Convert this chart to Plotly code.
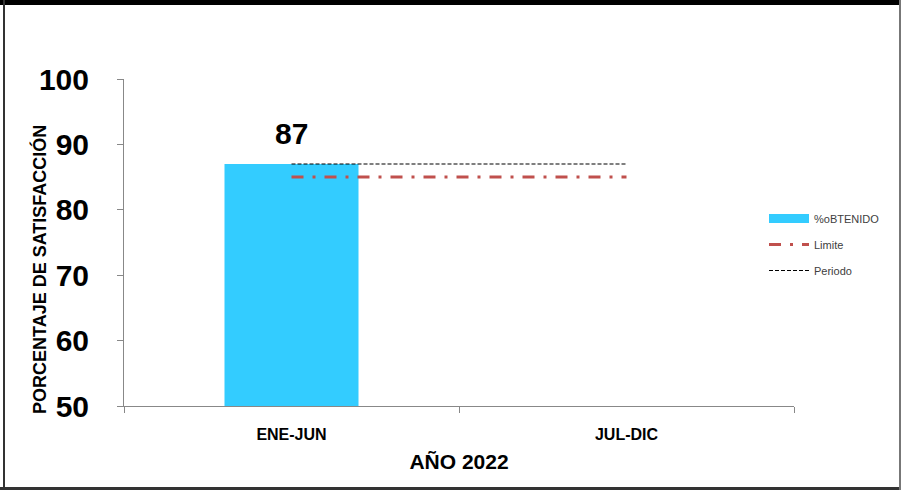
import plotly.graph_objects as go

# Data
periodos = ["ENE-JUN", "JUL-DIC"]
obtenido = [87, None]
limite = [85, 85]
periodo_ref = [87, 87]
y_ticks = [50, 60, 70, 80, 90, 100]

W, H = 901, 491
ML, MR, MT, MB = 124, 107, 79, 85
PW, PH = W - ML - MR, H - MT - MB

FONT = "Liberation Sans"
BAR_COLOR = "#33CCFF"
RED = "#C0504D"

fig = go.Figure()

fig.add_trace(go.Bar(
    x=periodos, y=obtenido, width=0.4, marker_color=BAR_COLOR,
    marker_line_width=0, showlegend=False, name="%oBTENIDO",
))
# legend entry for the bar, drawn as a thick swatch
fig.add_trace(go.Scatter(
    x=[None], y=[None], mode="lines", name="%oBTENIDO", legendgroup="a",
    line=dict(color=BAR_COLOR, width=9),
))
fig.add_trace(go.Scatter(
    x=periodos, y=limite, mode="lines", name="Limite", legendgroup="b",
    line=dict(color=RED, width=3, dash="12px,9px,3px,9px"),
))
fig.add_trace(go.Scatter(
    x=periodos, y=periodo_ref, mode="lines", name="Periodo", legendgroup="c",
    line=dict(color="#000000", width=1.2, dash="4px,2px"),
))

# value label above the bar
fig.add_annotation(
    x=periodos[0], y=obtenido[0], text="<b>87</b>", showarrow=False,
    yanchor="bottom", yshift=12, font=dict(family=FONT, size=30, color="#000000"),
)


def px_x(v):
    return (v - ML) / PW


def px_y(v):
    return (H - MB - v) / PH


# y axis title
fig.add_annotation(
    xref="paper", yref="paper", xanchor="center", yanchor="middle",
    x=px_x(39), y=px_y(270),
    text="<b>PORCENTAJE DE SATISFACCIÓN</b>", textangle=-90, showarrow=False,
    font=dict(family=FONT, size=18, color="#000000"),
)

# outer frame
shapes = [
    dict(type="rect", xref="paper", yref="paper", x0=px_x(0), x1=px_x(W),
         y0=px_y(0), y1=px_y(5), fillcolor="#000000", line_width=0),
    dict(type="line", xref="paper", yref="paper", x0=px_x(4), x1=px_x(4),
         y0=px_y(0), y1=px_y(490), line=dict(color="#333333", width=2)),
    dict(type="line", xref="paper", yref="paper", x0=px_x(0), x1=px_x(W),
         y0=px_y(488.5), y1=px_y(488.5), line=dict(color="#333333", width=3)),
    dict(type="line", xref="paper", yref="paper", x0=px_x(900), x1=px_x(900),
         y0=px_y(0), y1=px_y(490), line=dict(color="#777777", width=2)),
]

fig.update_layout(
    width=W, height=H,
    margin=dict(l=ML, r=MR, t=MT, b=MB),
    paper_bgcolor="white", plot_bgcolor="white",
    shapes=shapes,
    showlegend=True,
    legend=dict(
        x=px_x(764), y=px_y(204), xanchor="left", yanchor="top",
        font=dict(family=FONT, size=11, color="#404040"),
        itemwidth=40, tracegroupgap=7, bgcolor="rgba(0,0,0,0)",
    ),
    xaxis=dict(
        type="category", range=[-0.5, 1.5],
        showline=True, linecolor="#888888", linewidth=1,
        ticks="outside", tickson="boundaries", ticklen=6, tickcolor="#888888",
        ticklabelstandoff=14,
        tickvals=periodos, ticktext=[f"<b>{p}</b>" for p in periodos],
        tickfont=dict(family=FONT, size=16, color="#000000"),
        title=dict(text="<b>AÑO 2022</b>", standoff=12,
                   font=dict(family=FONT, size=21, color="#000000")),
        showgrid=False, zeroline=False,
    ),
    yaxis=dict(
        range=[50, 100], tickvals=y_ticks,
        ticktext=[f"<b>{v}</b>" for v in y_ticks],
        showline=True, linecolor="#888888", linewidth=1,
        ticks="outside", ticklen=6, tickcolor="#888888",
        ticklabelstandoff=22,
        tickfont=dict(family=FONT, size=30, color="#000000"),
        showgrid=False, zeroline=False,
    ),
)

fig.write_html("out.html")
